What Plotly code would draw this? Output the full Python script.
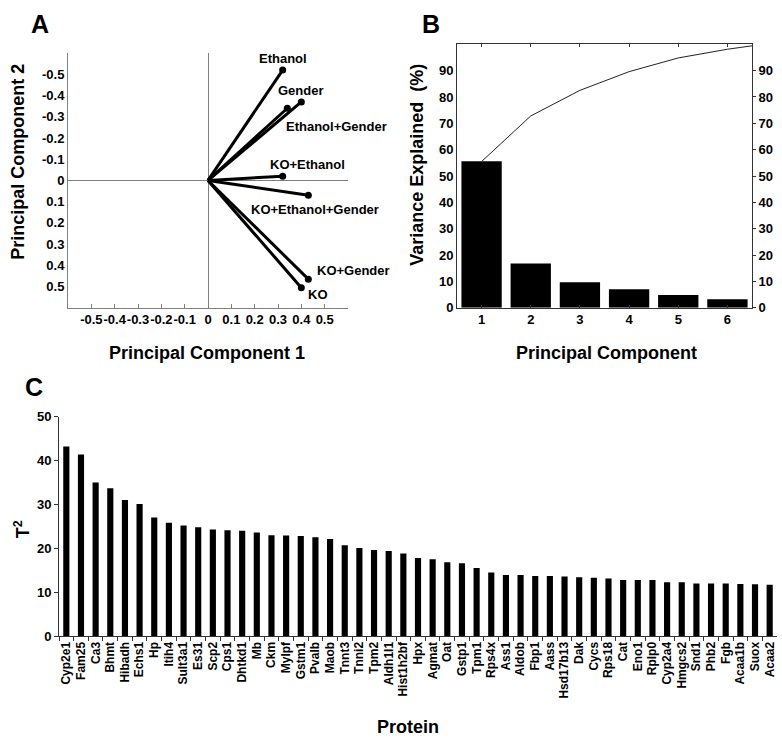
import plotly.graph_objects as go

# ---- Panel A: loadings on PC1 / PC2
groups = ["Ethanol", "Gender", "Ethanol+Gender", "KO+Ethanol",
          "KO+Ethanol+Gender", "KO+Gender", "KO"]
pc1 = [0.32, 0.40, 0.34, 0.32, 0.43, 0.43, 0.40]
pc2 = [-0.52, -0.37, -0.34, -0.02, 0.07, 0.465, 0.505]
pc_ticks = [-0.5, -0.4, -0.3, -0.2, -0.1, 0, 0.1, 0.2, 0.3, 0.4, 0.5]
pc_ticktext = ["-0.5", "-0.4", "-0.3", "-0.2", "-0.1", "0",
               "0.1", "0.2", "0.3", "0.4", "0.5"]

# ---- Panel B: scree plot
components = [1, 2, 3, 4, 5, 6]
variance = [55.6, 16.8, 9.7, 7.1, 4.9, 3.3]
cum_x = [1, 2, 3, 4, 5, 6, 6.5]
cum_y = [55.5, 72.8, 82.5, 89.6, 94.8, 98.1, 99.4]
var_ticks = [0, 10, 20, 30, 40, 50, 60, 70, 80, 90]

# ---- Panel C: T^2 per protein
proteins = ["Cyp2e1", "Fam25", "Ca3", "Bhmt", "Hibadh", "Echs1", "Hp", "Itih4",
            "Sult3a1", "Es31", "Scp2", "Cps1", "Dhtkd1", "Mb", "Ckm", "Mylpf",
            "Gstm1", "Pvalb", "Maob", "Tnnt3", "Tnni2", "Tpm2", "Aldh1l1",
            "Hist1h2bf", "Hpx", "Agmat", "Oat", "Gstp1", "Tpm1", "Rps4x", "Ass1",
            "Aldob", "Fbp1", "Aass", "Hsd17b13", "Dak", "Cycs", "Rps18", "Cat",
            "Eno1", "Rplp0", "Cyp2a4", "Hmgcs2", "Snd1", "Phb2", "Fgb", "Acaa1b",
            "Suox", "Acaa2"]
t2 = [43.2, 41.4, 35.0, 33.7, 31.0, 30.1, 27.0, 25.8, 25.2, 24.8, 24.3, 24.1,
      24.0, 23.6, 23.0, 22.9, 22.8, 22.5, 22.1, 20.7, 20.1, 19.6, 19.4, 18.8,
      17.8, 17.5, 16.8, 16.6, 15.5, 14.5, 13.9, 13.9, 13.7, 13.7, 13.6, 13.4,
      13.3, 13.1, 12.8, 12.8, 12.8, 12.3, 12.3, 12.0, 12.0, 12.0, 11.9, 11.8, 11.7]
t2_ticks = [0, 10, 20, 30, 40, 50]

W, H = 782, 748
FONT = "Liberation Sans, Arial, sans-serif"


def px_x(p):
    return p / W


def px_y(p):
    return 1 - p / H


fig = go.Figure()

# vectors from the origin
line_x, line_y = [], []
for a, b in zip(pc1, pc2):
    line_x += [0, a, None]
    line_y += [0, b, None]
fig.add_trace(go.Scatter(x=line_x, y=line_y, mode="lines",
                         line=dict(color="black", width=3),
                         xaxis="x", yaxis="y", showlegend=False))
fig.add_trace(go.Scatter(x=pc1, y=pc2, mode="markers",
                         marker=dict(color="black", size=7),
                         xaxis="x", yaxis="y", showlegend=False))

# label placement (anchor, xshift, yshift) in pixels
label_pos = {
    "Ethanol": ("center", "bottom", 0, 2),
    "Gender": ("center", "bottom", 0, 2),
    "Ethanol+Gender": ("left", "middle", -3, -18),
    "KO+Ethanol": ("center", "middle", 25, 12),
    "KO+Ethanol+Gender": ("left", "middle", -59, -14),
    "KO+Gender": ("left", "middle", 7, 9),
    "KO": ("left", "middle", 5, -7),
}
annotations = []
for g, a, b in zip(groups, pc1, pc2):
    xa, ya, xs, ys = label_pos[g]
    annotations.append(dict(x=a, y=b, xref="x", yref="y", text=g, showarrow=False,
                            xanchor=xa, yanchor=ya, xshift=xs, yshift=ys,
                            font=dict(size=13, family=FONT, color="black", weight="bold")))

# scree bars + cumulative line
fig.add_trace(go.Bar(x=components, y=variance, marker=dict(color="black", line_width=0),
                     width=0.82, xaxis="x2", yaxis="y2", showlegend=False))
fig.add_trace(go.Scatter(x=cum_x, y=cum_y, mode="lines",
                         line=dict(color="#222222", width=1),
                         xaxis="x2", yaxis="y3", showlegend=False))

# T^2 bars
fig.add_trace(go.Bar(x=proteins, y=t2, marker=dict(color="black", line_width=0),
                     width=0.42, xaxis="x3", yaxis="y4", showlegend=False))

tickfont = dict(size=13, family=FONT, color="black", weight="bold")
title_font = dict(size=18, family=FONT, color="black", weight="bold")
letter_font = dict(size=25, family=FONT, color="black", weight="bold")


def paper_text(text, x, y, font, angle=0):
    return dict(x=px_x(x), y=px_y(y), xref="paper", yref="paper", text=text,
                showarrow=False, xanchor="center", yanchor="middle",
                textangle=angle, font=font)


annotations += [
    paper_text("A", 40, 17, letter_font),
    paper_text("B", 431, 17, letter_font),
    paper_text("C", 34, 388, letter_font),
    paper_text("Principal Component 1", 207, 353, title_font),
    paper_text("Principal Component 2", 18, 158, title_font, -90),
    paper_text("Principal Component", 606, 353, title_font),
    paper_text("Variance Explained  (%)", 417, 161, title_font, -90),
    paper_text("Protein", 408, 735, title_font),
    paper_text("T<sup>2</sup>", 22, 533, title_font, -90),
]

fig.update_layout(
    width=W, height=H,
    margin=dict(l=0, r=0, t=0, b=0),
    paper_bgcolor="white", plot_bgcolor="white",
    font=dict(family=FONT, color="black"),
    showlegend=False,
    annotations=annotations,
    # panel A
    xaxis=dict(domain=[px_x(68), px_x(348)], range=[-0.6, 0.6],
               tickvals=pc_ticks, ticktext=pc_ticktext, tickfont=tickfont,
               tickangle=0,
               ticks="inside", ticklen=4, tickcolor="#808080",
               showline=True, linecolor="#808080", linewidth=1,
               showgrid=False, zeroline=True, zerolinecolor="#808080",
               zerolinewidth=1, anchor="y"),
    yaxis=dict(domain=[px_y(307), px_y(47)], range=[0.6, -0.6],
               tickvals=pc_ticks, ticktext=pc_ticktext, tickfont=tickfont,
               ticks="", showline=True, linecolor="#808080", linewidth=1,
               showgrid=False, zeroline=True, zerolinecolor="#808080",
               zerolinewidth=1, anchor="x"),
    # panel B
    xaxis2=dict(domain=[px_x(457), px_x(752)], range=[0.5, 6.5],
                tickvals=components, tickfont=tickfont,
                ticks="inside", ticklen=3, tickcolor="#333333",
                showline=True, linecolor="#333333", linewidth=1, mirror="ticks",
                showgrid=False, zeroline=False, anchor="y2"),
    yaxis2=dict(domain=[px_y(307), px_y(38)], range=[0, 100],
                tickvals=var_ticks, tickfont=tickfont, ticks="",
                showline=True, linecolor="#333333", linewidth=1,
                showgrid=False, zeroline=False, anchor="x2"),
    yaxis3=dict(overlaying="y2", side="right", range=[0, 100],
                tickvals=var_ticks, tickfont=tickfont,
                ticks="outside", ticklen=3, tickcolor="#333333",
                showline=True, linecolor="#333333", linewidth=1,
                showgrid=False, zeroline=False, anchor="x2"),
    # panel C
    xaxis3=dict(domain=[px_x(59), px_x(777)], type="category",
                tickfont=dict(size=12, family=FONT, color="black", weight="bold"),
                tickangle=-90, ticks="outside", ticklen=4, tickson="boundaries",
                tickcolor="#333333", showline=True, linecolor="#333333",
                linewidth=1, showgrid=False, zeroline=False, anchor="y4"),
    yaxis4=dict(domain=[px_y(642), px_y(418)], range=[0, 50],
                tickvals=t2_ticks, tickfont=tickfont,
                ticks="outside", ticklen=4, tickcolor="#333333",
                showline=True, linecolor="#333333", linewidth=1,
                showgrid=False, zeroline=False, anchor="x3"),
)

# drop the default page margin so the 782x748 figure fills the window exactly
fig.write_html("out.html",
               config={"displayModeBar": False},
               post_script="document.body.style.margin='0';"
                           "document.body.style.overflow='hidden';")
